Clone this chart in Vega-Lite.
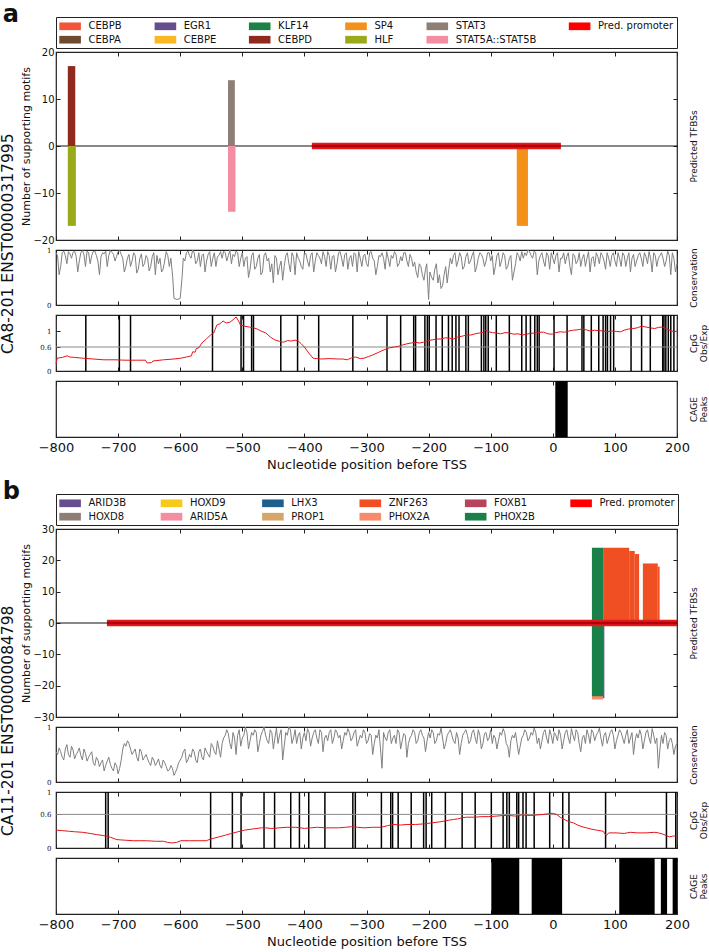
{
"$schema": "https://vega.github.io/schema/vega-lite/v6.json",
"background": "white",
"padding": {"left": 0, "top": 2, "right": 0, "bottom": 0},
"config": {
  "font": "DejaVu Sans",
  "view": {"stroke": "#222222", "strokeWidth": 1.2},
  "axis": {"grid": false, "domain": false, "tickColor": "#222222", "tickSize": -4, "tickWidth": 1, "labelColor": "#111111", "titleColor": "#111111", "titleFontWeight": "normal", "labelFlush": false, "labelOverlap": false, "minExtent": 0, "labelFont": "DejaVu Sans", "titleFont": "DejaVu Sans"},
  "title": {"color": "#111111"}
},
"datasets": {
  "tfbsA": [
    {"tf": "CEBPD", "start": -781, "end": -769, "lo": 0, "hi": 17},
    {"tf": "HLF", "start": -781, "end": -768, "lo": -17, "hi": 0},
    {"tf": "STAT3", "start": -523, "end": -512, "lo": 0, "hi": 14},
    {"tf": "STAT5A::STAT5B", "start": -523, "end": -511, "lo": -14, "hi": 0},
    {"tf": "SP4", "start": -58, "end": -40, "lo": -17, "hi": 0}
  ],
  "promA": [{"start": -388, "end": 13}],
  "cageA": [{"start": 4, "end": 24}],
  "sitesA": [{"p":-752},{"p":-698},{"p":-680},{"p":-548},{"p":-502},{"p":-498},{"p":-485},{"p":-482},{"p":-438},{"p":-411},{"p":-377},{"p":-322},{"p":-267},{"p":-245},{"p":-224},{"p":-221},{"p":-206},{"p":-202},{"p":-199},{"p":-188},{"p":-178},{"p":-168},{"p":-162},{"p":-156},{"p":-151},{"p":-140},{"p":-136},{"p":-115},{"p":-111},{"p":-108},{"p":-104},{"p":-91},{"p":-70},{"p":-50},{"p":-43},{"p":-36},{"p":-29},{"p":-25},{"p":-22},{"p":2},{"p":23},{"p":47},{"p":50},{"p":62},{"p":74},{"p":81},{"p":85},{"p":88},{"p":93},{"p":98},{"p":126},{"p":143},{"p":157},{"p":177},{"p":179},{"p":182},{"p":186},{"p":190},{"p":195}],
  "cpgA": [{"p":-800,"v":0.18},{"p":-798,"v":0.32},{"p":-790,"v":0.34},{"p":-782,"v":0.38},{"p":-778,"v":0.35},{"p":-770,"v":0.34},{"p":-757,"v":0.32},{"p":-740,"v":0.3},{"p":-723,"v":0.28},{"p":-705,"v":0.28},{"p":-689,"v":0.27},{"p":-670,"v":0.27},{"p":-656,"v":0.27},{"p":-653,"v":0.2},{"p":-646,"v":0.21},{"p":-644,"v":0.25},{"p":-627,"v":0.28},{"p":-610,"v":0.3},{"p":-599,"v":0.32},{"p":-590,"v":0.35},{"p":-582,"v":0.38},{"p":-580,"v":0.48},{"p":-576,"v":0.47},{"p":-574,"v":0.56},{"p":-570,"v":0.58},{"p":-565,"v":0.7},{"p":-558,"v":0.8},{"p":-551,"v":0.9},{"p":-546,"v":0.95},{"p":-544,"v":1.03},{"p":-541,"v":1.15},{"p":-536,"v":1.18},{"p":-531,"v":1.25},{"p":-526,"v":1.2},{"p":-520,"v":1.22},{"p":-515,"v":1.28},{"p":-510,"v":1.35},{"p":-506,"v":1.25},{"p":-503,"v":1.15},{"p":-496,"v":1.12},{"p":-489,"v":1.1},{"p":-482,"v":1.08},{"p":-476,"v":1.05},{"p":-470,"v":1.0},{"p":-462,"v":0.95},{"p":-455,"v":0.85},{"p":-448,"v":0.78},{"p":-440,"v":0.74},{"p":-434,"v":0.72},{"p":-427,"v":0.76},{"p":-421,"v":0.75},{"p":-415,"v":0.77},{"p":-410,"v":0.75},{"p":-405,"v":0.68},{"p":-400,"v":0.6},{"p":-393,"v":0.45},{"p":-386,"v":0.32},{"p":-380,"v":0.31},{"p":-372,"v":0.3},{"p":-360,"v":0.31},{"p":-345,"v":0.3},{"p":-338,"v":0.3},{"p":-331,"v":0.28},{"p":-324,"v":0.33},{"p":-318,"v":0.35},{"p":-310,"v":0.31},{"p":-304,"v":0.32},{"p":-297,"v":0.36},{"p":-290,"v":0.4},{"p":-283,"v":0.45},{"p":-276,"v":0.5},{"p":-270,"v":0.54},{"p":-263,"v":0.58},{"p":-255,"v":0.6},{"p":-248,"v":0.62},{"p":-242,"v":0.65},{"p":-235,"v":0.68},{"p":-228,"v":0.7},{"p":-221,"v":0.72},{"p":-215,"v":0.7},{"p":-208,"v":0.72},{"p":-200,"v":0.76},{"p":-194,"v":0.78},{"p":-187,"v":0.8},{"p":-180,"v":0.8},{"p":-173,"v":0.83},{"p":-166,"v":0.82},{"p":-160,"v":0.8},{"p":-153,"v":0.85},{"p":-146,"v":0.87},{"p":-139,"v":0.9},{"p":-132,"v":0.9},{"p":-125,"v":0.93},{"p":-118,"v":0.95},{"p":-111,"v":0.97},{"p":-108,"v":1.02},{"p":-103,"v":0.98},{"p":-97,"v":0.96},{"p":-91,"v":0.95},{"p":-84,"v":0.93},{"p":-77,"v":0.96},{"p":-70,"v":0.95},{"p":-63,"v":0.92},{"p":-56,"v":0.93},{"p":-49,"v":0.9},{"p":-42,"v":0.92},{"p":-36,"v":0.94},{"p":-29,"v":0.95},{"p":-22,"v":0.97},{"p":-15,"v":0.97},{"p":-8,"v":0.93},{"p":-1,"v":0.92},{"p":5,"v":0.96},{"p":12,"v":0.98},{"p":19,"v":0.97},{"p":26,"v":1.0},{"p":33,"v":1.02},{"p":40,"v":1.03},{"p":47,"v":1.05},{"p":54,"v":1.03},{"p":60,"v":1.0},{"p":67,"v":1.02},{"p":74,"v":1.01},{"p":81,"v":1.0},{"p":88,"v":0.98},{"p":95,"v":1.0},{"p":102,"v":0.99},{"p":109,"v":0.98},{"p":115,"v":1.02},{"p":122,"v":1.05},{"p":129,"v":1.06},{"p":136,"v":1.08},{"p":143,"v":1.12},{"p":150,"v":1.1},{"p":157,"v":1.08},{"p":164,"v":1.06},{"p":170,"v":1.09},{"p":177,"v":1.1},{"p":184,"v":1.05},{"p":191,"v":1.0},{"p":196,"v":0.98},{"p":200,"v":1.0}],
  "consA": [{"p":-800,"v":0.95},{"p":-795,"v":0.55},{"p":-790,"v":0.95},{"p":-785,"v":0.9},{"p":-780,"v":0.97},{"p":-775,"v":0.85},{"p":-770,"v":0.98},{"p":-765,"v":0.6},{"p":-760,"v":0.95},{"p":-755,"v":0.92},{"p":-750,"v":0.98},{"p":-745,"v":0.75},{"p":-740,"v":0.97},{"p":-735,"v":0.9},{"p":-730,"v":0.55},{"p":-725,"v":0.95},{"p":-720,"v":0.98},{"p":-715,"v":0.9},{"p":-710,"v":0.96},{"p":-705,"v":0.8},{"p":-700,"v":0.97},{"p":-695,"v":0.92},{"p":-690,"v":0.6},{"p":-685,"v":0.85},{"p":-680,"v":0.7},{"p":-675,"v":0.95},{"p":-670,"v":0.58},{"p":-665,"v":0.85},{"p":-660,"v":0.7},{"p":-655,"v":0.9},{"p":-650,"v":0.62},{"p":-645,"v":0.88},{"p":-640,"v":0.55},{"p":-635,"v":0.75},{"p":-630,"v":0.6},{"p":-625,"v":0.8},{"p":-620,"v":0.9},{"p":-615,"v":0.85},{"p":-612,"v":0.5},{"p":-610,"v":0.12},{"p":-605,"v":0.1},{"p":-600,"v":0.12},{"p":-597,"v":0.5},{"p":-595,"v":0.85},{"p":-590,"v":0.95},{"p":-585,"v":0.9},{"p":-580,"v":1.0},{"p":-575,"v":0.75},{"p":-570,"v":0.95},{"p":-565,"v":0.9},{"p":-560,"v":0.6},{"p":-555,"v":0.92},{"p":-550,"v":0.7},{"p":-545,"v":0.95},{"p":-540,"v":0.88},{"p":-535,"v":0.97},{"p":-530,"v":0.98},{"p":-525,"v":0.8},{"p":-520,"v":1.0},{"p":-515,"v":0.92},{"p":-510,"v":0.98},{"p":-505,"v":0.7},{"p":-500,"v":0.95},{"p":-495,"v":0.85},{"p":-490,"v":0.5},{"p":-485,"v":0.9},{"p":-480,"v":0.65},{"p":-475,"v":0.85},{"p":-470,"v":0.55},{"p":-465,"v":0.9},{"p":-460,"v":0.8},{"p":-455,"v":0.6},{"p":-450,"v":0.4},{"p":-445,"v":0.85},{"p":-440,"v":0.7},{"p":-435,"v":0.45},{"p":-430,"v":0.9},{"p":-425,"v":0.75},{"p":-420,"v":0.95},{"p":-415,"v":0.55},{"p":-410,"v":0.85},{"p":-405,"v":0.7},{"p":-400,"v":0.95},{"p":-395,"v":0.8},{"p":-390,"v":0.9},{"p":-385,"v":0.6},{"p":-380,"v":0.95},{"p":-375,"v":0.85},{"p":-370,"v":0.97},{"p":-365,"v":0.7},{"p":-360,"v":0.9},{"p":-355,"v":0.88},{"p":-350,"v":0.6},{"p":-345,"v":0.95},{"p":-340,"v":0.85},{"p":-335,"v":0.92},{"p":-330,"v":0.65},{"p":-325,"v":0.9},{"p":-320,"v":0.95},{"p":-315,"v":0.6},{"p":-310,"v":0.85},{"p":-305,"v":0.9},{"p":-300,"v":0.75},{"p":-295,"v":0.95},{"p":-290,"v":0.85},{"p":-285,"v":0.55},{"p":-280,"v":0.9},{"p":-275,"v":0.95},{"p":-270,"v":0.65},{"p":-265,"v":0.85},{"p":-260,"v":0.9},{"p":-255,"v":0.97},{"p":-250,"v":0.7},{"p":-245,"v":0.88},{"p":-240,"v":0.95},{"p":-235,"v":0.8},{"p":-230,"v":0.92},{"p":-225,"v":0.7},{"p":-220,"v":0.6},{"p":-215,"v":0.75},{"p":-210,"v":0.55},{"p":-205,"v":0.65},{"p":-201,"v":0.3},{"p":-200,"v":0.1},{"p":-198,"v":0.6},{"p":-195,"v":0.5},{"p":-190,"v":0.65},{"p":-185,"v":0.4},{"p":-180,"v":0.3},{"p":-175,"v":0.55},{"p":-170,"v":0.4},{"p":-165,"v":0.85},{"p":-160,"v":0.9},{"p":-155,"v":0.7},{"p":-150,"v":0.95},{"p":-145,"v":0.65},{"p":-140,"v":0.88},{"p":-135,"v":0.75},{"p":-130,"v":0.9},{"p":-125,"v":0.6},{"p":-120,"v":0.85},{"p":-115,"v":0.92},{"p":-110,"v":0.7},{"p":-105,"v":0.95},{"p":-100,"v":0.8},{"p":-95,"v":0.55},{"p":-90,"v":0.9},{"p":-85,"v":0.7},{"p":-80,"v":0.95},{"p":-75,"v":0.65},{"p":-70,"v":0.85},{"p":-65,"v":0.45},{"p":-60,"v":0.75},{"p":-55,"v":0.9},{"p":-50,"v":0.97},{"p":-45,"v":0.95},{"p":-40,"v":1.0},{"p":-35,"v":0.9},{"p":-30,"v":0.98},{"p":-25,"v":0.55},{"p":-20,"v":0.9},{"p":-15,"v":0.8},{"p":-10,"v":0.95},{"p":-5,"v":0.65},{"p":0,"v":0.85},{"p":5,"v":0.9},{"p":10,"v":0.6},{"p":15,"v":0.85},{"p":20,"v":0.75},{"p":25,"v":0.95},{"p":30,"v":0.55},{"p":35,"v":0.9},{"p":40,"v":0.8},{"p":45,"v":0.7},{"p":50,"v":0.92},{"p":55,"v":0.85},{"p":60,"v":0.6},{"p":65,"v":0.88},{"p":70,"v":0.95},{"p":75,"v":0.75},{"p":80,"v":0.9},{"p":85,"v":0.65},{"p":90,"v":0.85},{"p":95,"v":0.9},{"p":100,"v":0.8},{"p":105,"v":0.95},{"p":110,"v":0.7},{"p":115,"v":0.9},{"p":120,"v":0.85},{"p":125,"v":0.6},{"p":130,"v":0.92},{"p":135,"v":0.8},{"p":140,"v":0.95},{"p":145,"v":0.7},{"p":150,"v":0.88},{"p":155,"v":0.97},{"p":160,"v":0.6},{"p":165,"v":0.9},{"p":170,"v":0.85},{"p":175,"v":0.95},{"p":180,"v":0.7},{"p":185,"v":0.98},{"p":190,"v":0.55},{"p":195,"v":0.85},{"p":200,"v":0.75},
   {"p":-797.5,"v":0.9},{"p":-792.5,"v":0.7},{"p":-787.5,"v":0.98},{"p":-782.5,"v":0.75},{"p":-777.5,"v":0.93},{"p":-772.5,"v":0.96},{"p":-767.5,"v":0.88},{"p":-762.5,"v":0.8},{"p":-757.5,"v":0.99},{"p":-752.5,"v":0.7},{"p":-747.5,"v":0.95},{"p":-742.5,"v":0.9},{"p":-737.5,"v":0.98},{"p":-732.5,"v":0.8},{"p":-727.5,"v":0.88},{"p":-722.5,"v":0.93},{"p":-717.5,"v":0.7},{"p":-712.5,"v":0.99},{"p":-707.5,"v":0.92},{"p":-702.5,"v":0.88},{"p":-697.5,"v":0.99},{"p":-692.5,"v":0.85},{"p":-687.5,"v":0.7},{"p":-682.5,"v":0.92},{"p":-677.5,"v":0.8},{"p":-672.5,"v":0.9},{"p":-667.5,"v":0.65},{"p":-662.5,"v":0.93},{"p":-657.5,"v":0.75},{"p":-652.5,"v":0.85},{"p":-647.5,"v":0.7},{"p":-642.5,"v":0.95},{"p":-637.5,"v":0.9},{"p":-632.5,"v":0.85},{"p":-627.5,"v":0.65},{"p":-622.5,"v":0.97},{"p":-617.5,"v":0.7},{"p":-592.5,"v":0.8},{"p":-587.5,"v":0.98},{"p":-582.5,"v":0.85},{"p":-577.5,"v":0.95},{"p":-572.5,"v":0.8},{"p":-567.5,"v":0.7},{"p":-562.5,"v":0.93},{"p":-557.5,"v":0.8},{"p":-552.5,"v":0.97},{"p":-547.5,"v":0.85},{"p":-542.5,"v":0.7},{"p":-537.5,"v":0.9},{"p":-532.5,"v":0.85},{"p":-527.5,"v":0.95},{"p":-522.5,"v":0.9},{"p":-517.5,"v":0.75},{"p":-512.5,"v":0.88},{"p":-507.5,"v":0.95},{"p":-502.5,"v":0.85},{"p":-497.5,"v":0.7},{"p":-492.5,"v":0.88},{"p":-487.5,"v":0.65},{"p":-482.5,"v":0.95},{"p":-477.5,"v":0.7},{"p":-472.5,"v":0.92},{"p":-467.5,"v":0.6},{"p":-462.5,"v":0.95},{"p":-457.5,"v":0.85},{"p":-452.5,"v":0.75},{"p":-447.5,"v":0.9},{"p":-442.5,"v":0.55},{"p":-437.5,"v":0.8},{"p":-432.5,"v":0.7},{"p":-427.5,"v":0.95},{"p":-422.5,"v":0.6},{"p":-417.5,"v":0.88},{"p":-412.5,"v":0.95},{"p":-407.5,"v":0.8},{"p":-402.5,"v":0.65},{"p":-397.5,"v":0.93},{"p":-392.5,"v":0.7},{"p":-387.5,"v":0.95},{"p":-382.5,"v":0.8},{"p":-377.5,"v":0.9},{"p":-372.5,"v":0.75},{"p":-367.5,"v":0.88},{"p":-362.5,"v":0.97},{"p":-357.5,"v":0.65},{"p":-352.5,"v":0.9},{"p":-347.5,"v":0.75},{"p":-342.5,"v":0.97},{"p":-337.5,"v":0.7},{"p":-332.5,"v":0.95},{"p":-327.5,"v":0.85},{"p":-322.5,"v":0.7},{"p":-317.5,"v":0.92},{"p":-312.5,"v":0.97},{"p":-307.5,"v":0.7},{"p":-302.5,"v":0.92},{"p":-297.5,"v":0.7},{"p":-292.5,"v":0.97},{"p":-287.5,"v":0.8},{"p":-282.5,"v":0.7},{"p":-277.5,"v":0.88},{"p":-272.5,"v":0.85},{"p":-267.5,"v":0.97},{"p":-262.5,"v":0.7},{"p":-257.5,"v":0.85},{"p":-252.5,"v":0.92},{"p":-247.5,"v":0.75},{"p":-242.5,"v":0.8},{"p":-237.5,"v":0.95},{"p":-232.5,"v":0.7},{"p":-227.5,"v":0.85},{"p":-222.5,"v":0.78},{"p":-217.5,"v":0.5},{"p":-212.5,"v":0.7},{"p":-207.5,"v":0.45},{"p":-203,"v":0.75},{"p":-192.5,"v":0.45},{"p":-187.5,"v":0.75},{"p":-182.5,"v":0.55},{"p":-177.5,"v":0.35},{"p":-172.5,"v":0.7},{"p":-167.5,"v":0.65},{"p":-162.5,"v":0.75},{"p":-157.5,"v":0.95},{"p":-152.5,"v":0.8},{"p":-147.5,"v":0.88},{"p":-142.5,"v":0.7},{"p":-137.5,"v":0.95},{"p":-132.5,"v":0.8},{"p":-127.5,"v":0.97},{"p":-122.5,"v":0.7},{"p":-117.5,"v":0.95},{"p":-112.5,"v":0.85},{"p":-107.5,"v":0.8},{"p":-102.5,"v":0.95},{"p":-97.5,"v":0.9},{"p":-92.5,"v":0.7},{"p":-87.5,"v":0.95},{"p":-82.5,"v":0.8},{"p":-77.5,"v":0.9},{"p":-72.5,"v":0.7},{"p":-67.5,"v":0.9},{"p":-62.5,"v":0.6},{"p":-57.5,"v":0.95},{"p":-52.5,"v":0.8},{"p":-47.5,"v":0.85},{"p":-42.5,"v":0.9},{"p":-37.5,"v":0.97},{"p":-32.5,"v":0.85},{"p":-27.5,"v":0.95},{"p":-22.5,"v":0.8},{"p":-17.5,"v":0.95},{"p":-12.5,"v":0.7},{"p":-7.5,"v":0.9},{"p":-2.5,"v":0.95},{"p":2.5,"v":0.75},{"p":7.5,"v":0.95},{"p":12.5,"v":0.85},{"p":17.5,"v":0.95},{"p":22.5,"v":0.88},{"p":27.5,"v":0.7},{"p":32.5,"v":0.93},{"p":37.5,"v":0.75},{"p":42.5,"v":0.95},{"p":47.5,"v":0.85},{"p":52.5,"v":0.7},{"p":57.5,"v":0.97},{"p":62.5,"v":0.85},{"p":67.5,"v":0.7},{"p":72.5,"v":0.88},{"p":77.5,"v":0.95},{"p":82.5,"v":0.8},{"p":87.5,"v":0.95},{"p":92.5,"v":0.7},{"p":97.5,"v":0.95},{"p":102.5,"v":0.7},{"p":107.5,"v":0.85},{"p":112.5,"v":0.95},{"p":117.5,"v":0.7},{"p":122.5,"v":0.95},{"p":127.5,"v":0.85},{"p":132.5,"v":0.7},{"p":137.5,"v":0.9},{"p":142.5,"v":0.85},{"p":147.5,"v":0.95},{"p":152.5,"v":0.75},{"p":157.5,"v":0.85},{"p":162.5,"v":0.95},{"p":167.5,"v":0.7},{"p":172.5,"v":0.9},{"p":177.5,"v":0.85},{"p":182.5,"v":0.8},{"p":187.5,"v":0.9},{"p":192.5,"v":0.95},{"p":197.5,"v":0.6}],
  "tfbsB": [
    {"tf": "ARID3B", "start": 64, "end": 83, "lo": -24, "hi": 0},
    {"tf": "PHOX2A", "start": 63, "end": 81, "lo": -24.4, "hi": 0},
    {"tf": "PHOX2B", "start": 63, "end": 81, "lo": -23.4, "hi": 0},
    {"tf": "PHOX2B", "start": 63, "end": 82, "lo": 0, "hi": 24},
    {"tf": "ZNF263", "start": 82, "end": 123, "lo": 0, "hi": 24},
    {"tf": "ZNF263", "start": 123, "end": 132, "lo": 0, "hi": 23},
    {"tf": "ZNF263", "start": 132, "end": 139, "lo": 0, "hi": 22},
    {"tf": "ZNF263", "start": 145, "end": 169, "lo": 0, "hi": 19},
    {"tf": "ZNF263", "start": 169, "end": 172, "lo": 0, "hi": 18}
  ],
  "promB": [{"start": -718, "end": 200}],
  "cageB": [{"start": -99, "end": -54}, {"start": -34, "end": 15}, {"start": 107, "end": 164}, {"start": 174, "end": 184}, {"start": 193, "end": 200}],
  "sitesB": [{"p":-720},{"p":-716},{"p":-551},{"p":-516},{"p":-502},{"p":-465},{"p":-448},{"p":-422},{"p":-408},{"p":-393},{"p":-367},{"p":-322},{"p":-318},{"p":-276},{"p":-261},{"p":-258},{"p":-249},{"p":-228},{"p":-208},{"p":-204},{"p":-195},{"p":-173},{"p":-146},{"p":-125},{"p":-99},{"p":-80},{"p":-74},{"p":-70},{"p":-58},{"p":-55},{"p":-48},{"p":-43},{"p":-30},{"p":-5},{"p":16},{"p":26},{"p":85},{"p":183},{"p":198}],
  "cpgB": [{"p":-800,"v":0.32},{"p":-790,"v":0.31},{"p":-780,"v":0.3},{"p":-770,"v":0.29},{"p":-757,"v":0.28},{"p":-745,"v":0.26},{"p":-735,"v":0.24},{"p":-723,"v":0.22},{"p":-712,"v":0.19},{"p":-702,"v":0.15},{"p":-690,"v":0.14},{"p":-675,"v":0.13},{"p":-665,"v":0.13},{"p":-654,"v":0.13},{"p":-640,"v":0.12},{"p":-627,"v":0.12},{"p":-620,"v":0.1},{"p":-613,"v":0.09},{"p":-606,"v":0.1},{"p":-599,"v":0.13},{"p":-585,"v":0.13},{"p":-570,"v":0.13},{"p":-558,"v":0.13},{"p":-551,"v":0.16},{"p":-544,"v":0.18},{"p":-537,"v":0.2},{"p":-527,"v":0.23},{"p":-517,"v":0.26},{"p":-507,"v":0.29},{"p":-496,"v":0.32},{"p":-483,"v":0.34},{"p":-469,"v":0.36},{"p":-462,"v":0.36},{"p":-455,"v":0.35},{"p":-448,"v":0.35},{"p":-441,"v":0.36},{"p":-428,"v":0.37},{"p":-414,"v":0.37},{"p":-400,"v":0.35},{"p":-390,"v":0.36},{"p":-379,"v":0.37},{"p":-365,"v":0.36},{"p":-345,"v":0.36},{"p":-334,"v":0.37},{"p":-324,"v":0.38},{"p":-314,"v":0.37},{"p":-304,"v":0.36},{"p":-290,"v":0.37},{"p":-276,"v":0.37},{"p":-266,"v":0.4},{"p":-256,"v":0.42},{"p":-245,"v":0.41},{"p":-235,"v":0.42},{"p":-221,"v":0.42},{"p":-208,"v":0.43},{"p":-194,"v":0.45},{"p":-180,"v":0.47},{"p":-166,"v":0.5},{"p":-160,"v":0.51},{"p":-153,"v":0.52},{"p":-146,"v":0.54},{"p":-139,"v":0.55},{"p":-125,"v":0.55},{"p":-115,"v":0.56},{"p":-104,"v":0.56},{"p":-90,"v":0.57},{"p":-80,"v":0.58},{"p":-70,"v":0.58},{"p":-60,"v":0.57},{"p":-50,"v":0.59},{"p":-36,"v":0.58},{"p":-25,"v":0.59},{"p":-15,"v":0.6},{"p":-8,"v":0.61},{"p":-1,"v":0.62},{"p":6,"v":0.6},{"p":12,"v":0.55},{"p":20,"v":0.5},{"p":26,"v":0.47},{"p":33,"v":0.45},{"p":40,"v":0.41},{"p":47,"v":0.38},{"p":54,"v":0.36},{"p":61,"v":0.34},{"p":70,"v":0.32},{"p":81,"v":0.3},{"p":86,"v":0.22},{"p":90,"v":0.27},{"p":102,"v":0.27},{"p":115,"v":0.26},{"p":125,"v":0.28},{"p":136,"v":0.27},{"p":150,"v":0.27},{"p":164,"v":0.28},{"p":170,"v":0.27},{"p":177,"v":0.25},{"p":183,"v":0.22},{"p":188,"v":0.2},{"p":193,"v":0.21},{"p":198,"v":0.22},{"p":200,"v":0.22}],
  "consB": [{"p":-800,"v":0.55},{"p":-795,"v":0.62},{"p":-790,"v":0.45},{"p":-785,"v":0.6},{"p":-780,"v":0.5},{"p":-775,"v":0.65},{"p":-770,"v":0.42},{"p":-765,"v":0.55},{"p":-760,"v":0.48},{"p":-755,"v":0.6},{"p":-750,"v":0.38},{"p":-745,"v":0.5},{"p":-740,"v":0.35},{"p":-735,"v":0.45},{"p":-730,"v":0.28},{"p":-725,"v":0.4},{"p":-720,"v":0.3},{"p":-715,"v":0.45},{"p":-710,"v":0.25},{"p":-705,"v":0.35},{"p":-700,"v":0.15},{"p":-695,"v":0.4},{"p":-690,"v":0.7},{"p":-685,"v":0.75},{"p":-680,"v":0.6},{"p":-675,"v":0.55},{"p":-670,"v":0.45},{"p":-665,"v":0.6},{"p":-660,"v":0.4},{"p":-655,"v":0.5},{"p":-650,"v":0.35},{"p":-645,"v":0.45},{"p":-640,"v":0.3},{"p":-635,"v":0.42},{"p":-630,"v":0.25},{"p":-625,"v":0.35},{"p":-620,"v":0.2},{"p":-615,"v":0.3},{"p":-610,"v":0.12},{"p":-605,"v":0.25},{"p":-600,"v":0.4},{"p":-595,"v":0.55},{"p":-590,"v":0.35},{"p":-585,"v":0.5},{"p":-580,"v":0.6},{"p":-575,"v":0.4},{"p":-570,"v":0.55},{"p":-565,"v":0.45},{"p":-560,"v":0.62},{"p":-555,"v":0.5},{"p":-550,"v":0.7},{"p":-545,"v":0.55},{"p":-540,"v":0.75},{"p":-535,"v":0.45},{"p":-530,"v":0.8},{"p":-525,"v":0.95},{"p":-520,"v":0.7},{"p":-515,"v":0.9},{"p":-510,"v":0.5},{"p":-505,"v":0.95},{"p":-500,"v":0.8},{"p":-495,"v":1.0},{"p":-490,"v":0.6},{"p":-485,"v":0.9},{"p":-480,"v":0.95},{"p":-475,"v":0.55},{"p":-470,"v":0.85},{"p":-465,"v":1.0},{"p":-460,"v":0.75},{"p":-455,"v":0.95},{"p":-450,"v":0.6},{"p":-445,"v":0.98},{"p":-440,"v":0.85},{"p":-435,"v":0.4},{"p":-430,"v":0.9},{"p":-425,"v":1.0},{"p":-420,"v":0.7},{"p":-415,"v":0.95},{"p":-410,"v":0.85},{"p":-405,"v":0.6},{"p":-400,"v":0.9},{"p":-395,"v":0.97},{"p":-390,"v":0.65},{"p":-385,"v":0.9},{"p":-380,"v":0.8},{"p":-375,"v":0.95},{"p":-370,"v":0.55},{"p":-365,"v":0.85},{"p":-360,"v":0.9},{"p":-355,"v":0.7},{"p":-350,"v":0.95},{"p":-345,"v":0.8},{"p":-340,"v":0.6},{"p":-335,"v":0.9},{"p":-330,"v":0.97},{"p":-325,"v":0.75},{"p":-320,"v":0.9},{"p":-315,"v":0.65},{"p":-310,"v":0.85},{"p":-305,"v":0.95},{"p":-300,"v":0.7},{"p":-295,"v":0.88},{"p":-290,"v":0.5},{"p":-285,"v":0.85},{"p":-280,"v":0.95},{"p":-275,"v":0.25},{"p":-270,"v":0.8},{"p":-265,"v":0.9},{"p":-260,"v":0.7},{"p":-255,"v":0.85},{"p":-250,"v":0.95},{"p":-245,"v":0.6},{"p":-240,"v":0.88},{"p":-235,"v":0.45},{"p":-230,"v":0.8},{"p":-225,"v":0.95},{"p":-220,"v":0.7},{"p":-215,"v":0.9},{"p":-210,"v":0.85},{"p":-205,"v":0.55},{"p":-200,"v":0.9},{"p":-195,"v":0.95},{"p":-190,"v":0.7},{"p":-185,"v":0.88},{"p":-180,"v":0.98},{"p":-175,"v":0.6},{"p":-170,"v":0.85},{"p":-165,"v":0.95},{"p":-160,"v":0.75},{"p":-155,"v":0.9},{"p":-150,"v":0.5},{"p":-145,"v":0.85},{"p":-140,"v":0.95},{"p":-135,"v":0.7},{"p":-130,"v":0.9},{"p":-125,"v":0.8},{"p":-120,"v":0.95},{"p":-115,"v":0.6},{"p":-110,"v":0.88},{"p":-105,"v":0.75},{"p":-100,"v":0.95},{"p":-95,"v":0.85},{"p":-90,"v":0.6},{"p":-85,"v":0.9},{"p":-80,"v":0.97},{"p":-75,"v":0.7},{"p":-70,"v":0.45},{"p":-65,"v":0.85},{"p":-60,"v":0.9},{"p":-55,"v":0.5},{"p":-50,"v":0.8},{"p":-45,"v":0.95},{"p":-40,"v":0.75},{"p":-35,"v":0.9},{"p":-30,"v":0.98},{"p":-25,"v":0.7},{"p":-20,"v":0.6},{"p":-15,"v":0.9},{"p":-10,"v":0.8},{"p":-5,"v":0.95},{"p":0,"v":0.7},{"p":5,"v":0.85},{"p":10,"v":0.95},{"p":15,"v":0.6},{"p":20,"v":0.9},{"p":25,"v":0.8},{"p":30,"v":0.97},{"p":35,"v":0.75},{"p":40,"v":0.9},{"p":45,"v":0.55},{"p":50,"v":0.85},{"p":55,"v":0.95},{"p":60,"v":0.7},{"p":65,"v":0.9},{"p":70,"v":0.85},{"p":75,"v":0.98},{"p":80,"v":0.65},{"p":85,"v":0.9},{"p":90,"v":0.8},{"p":95,"v":0.95},{"p":100,"v":0.6},{"p":105,"v":0.85},{"p":110,"v":0.9},{"p":115,"v":0.7},{"p":120,"v":0.95},{"p":125,"v":0.8},{"p":130,"v":0.5},{"p":135,"v":0.88},{"p":140,"v":0.95},{"p":145,"v":0.6},{"p":150,"v":0.9},{"p":155,"v":0.8},{"p":160,"v":0.97},{"p":165,"v":0.7},{"p":170,"v":0.25},{"p":175,"v":0.85},{"p":180,"v":0.9},{"p":185,"v":0.6},{"p":190,"v":0.8},{"p":195,"v":0.5},{"p":200,"v":0.7},
   {"p":-797.5,"v":0.5},{"p":-792.5,"v":0.55},{"p":-787.5,"v":0.4},{"p":-782.5,"v":0.68},{"p":-777.5,"v":0.45},{"p":-772.5,"v":0.58},{"p":-767.5,"v":0.5},{"p":-762.5,"v":0.62},{"p":-757.5,"v":0.4},{"p":-752.5,"v":0.52},{"p":-747.5,"v":0.45},{"p":-742.5,"v":0.55},{"p":-737.5,"v":0.3},{"p":-732.5,"v":0.4},{"p":-727.5,"v":0.35},{"p":-722.5,"v":0.2},{"p":-717.5,"v":0.38},{"p":-712.5,"v":0.32},{"p":-707.5,"v":0.2},{"p":-702.5,"v":0.3},{"p":-697.5,"v":0.25},{"p":-692.5,"v":0.6},{"p":-687.5,"v":0.65},{"p":-682.5,"v":0.7},{"p":-677.5,"v":0.5},{"p":-672.5,"v":0.6},{"p":-667.5,"v":0.38},{"p":-662.5,"v":0.55},{"p":-657.5,"v":0.45},{"p":-652.5,"v":0.42},{"p":-647.5,"v":0.3},{"p":-642.5,"v":0.4},{"p":-637.5,"v":0.35},{"p":-632.5,"v":0.3},{"p":-627.5,"v":0.4},{"p":-622.5,"v":0.28},{"p":-617.5,"v":0.22},{"p":-612.5,"v":0.25},{"p":-607.5,"v":0.18},{"p":-602.5,"v":0.35},{"p":-597.5,"v":0.45},{"p":-592.5,"v":0.6},{"p":-587.5,"v":0.4},{"p":-582.5,"v":0.45},{"p":-577.5,"v":0.55},{"p":-572.5,"v":0.35},{"p":-567.5,"v":0.6},{"p":-562.5,"v":0.4},{"p":-557.5,"v":0.55},{"p":-552.5,"v":0.45},{"p":-547.5,"v":0.65},{"p":-542.5,"v":0.5},{"p":-537.5,"v":0.6},{"p":-532.5,"v":0.7},{"p":-527.5,"v":0.85},{"p":-522.5,"v":0.88},{"p":-517.5,"v":0.6},{"p":-512.5,"v":0.8},{"p":-507.5,"v":0.85},{"p":-502.5,"v":0.65},{"p":-497.5,"v":0.85},{"p":-492.5,"v":0.9},{"p":-487.5,"v":0.75},{"p":-482.5,"v":0.85},{"p":-477.5,"v":0.9},{"p":-472.5,"v":0.7},{"p":-467.5,"v":0.92},{"p":-462.5,"v":0.85},{"p":-457.5,"v":0.7},{"p":-452.5,"v":0.9},{"p":-447.5,"v":0.8},{"p":-442.5,"v":0.7},{"p":-437.5,"v":0.95},{"p":-432.5,"v":0.65},{"p":-427.5,"v":0.85},{"p":-422.5,"v":0.95},{"p":-417.5,"v":0.8},{"p":-412.5,"v":0.7},{"p":-407.5,"v":0.9},{"p":-402.5,"v":0.8},{"p":-397.5,"v":0.75},{"p":-392.5,"v":0.9},{"p":-387.5,"v":0.8},{"p":-382.5,"v":0.95},{"p":-377.5,"v":0.7},{"p":-372.5,"v":0.9},{"p":-367.5,"v":0.8},{"p":-362.5,"v":0.75},{"p":-357.5,"v":0.95},{"p":-352.5,"v":0.8},{"p":-347.5,"v":0.9},{"p":-342.5,"v":0.85},{"p":-337.5,"v":0.75},{"p":-332.5,"v":0.85},{"p":-327.5,"v":0.9},{"p":-322.5,"v":0.8},{"p":-317.5,"v":0.95},{"p":-312.5,"v":0.75},{"p":-307.5,"v":0.8},{"p":-302.5,"v":0.9},{"p":-297.5,"v":0.75},{"p":-292.5,"v":0.85},{"p":-287.5,"v":0.7},{"p":-282.5,"v":0.8},{"p":-277.5,"v":0.6},{"p":-272.5,"v":0.9},{"p":-267.5,"v":0.75},{"p":-262.5,"v":0.95},{"p":-257.5,"v":0.8},{"p":-252.5,"v":0.7},{"p":-247.5,"v":0.9},{"p":-242.5,"v":0.75},{"p":-237.5,"v":0.85},{"p":-232.5,"v":0.7},{"p":-227.5,"v":0.85},{"p":-222.5,"v":0.9},{"p":-217.5,"v":0.75},{"p":-212.5,"v":0.95},{"p":-207.5,"v":0.8},{"p":-202.5,"v":0.75},{"p":-197.5,"v":0.8},{"p":-192.5,"v":0.9},{"p":-187.5,"v":0.75},{"p":-182.5,"v":0.85},{"p":-177.5,"v":0.8},{"p":-172.5,"v":0.7},{"p":-167.5,"v":0.9},{"p":-162.5,"v":0.85},{"p":-157.5,"v":0.7},{"p":-152.5,"v":0.8},{"p":-147.5,"v":0.7},{"p":-142.5,"v":0.9},{"p":-137.5,"v":0.85},{"p":-132.5,"v":0.75},{"p":-127.5,"v":0.95},{"p":-122.5,"v":0.7},{"p":-117.5,"v":0.85},{"p":-112.5,"v":0.7},{"p":-107.5,"v":0.9},{"p":-102.5,"v":0.8},{"p":-97.5,"v":0.7},{"p":-92.5,"v":0.8},{"p":-87.5,"v":0.75},{"p":-82.5,"v":0.85},{"p":-77.5,"v":0.9},{"p":-72.5,"v":0.65},{"p":-67.5,"v":0.75},{"p":-62.5,"v":0.8},{"p":-57.5,"v":0.7},{"p":-52.5,"v":0.65},{"p":-47.5,"v":0.85},{"p":-42.5,"v":0.9},{"p":-37.5,"v":0.8},{"p":-32.5,"v":0.85},{"p":-27.5,"v":0.9},{"p":-22.5,"v":0.8},{"p":-17.5,"v":0.75},{"p":-12.5,"v":0.95},{"p":-7.5,"v":0.7},{"p":-2.5,"v":0.85},{"p":2.5,"v":0.9},{"p":7.5,"v":0.75},{"p":12.5,"v":0.85},{"p":17.5,"v":0.75},{"p":22.5,"v":0.95},{"p":27.5,"v":0.7},{"p":32.5,"v":0.85},{"p":37.5,"v":0.95},{"p":42.5,"v":0.7},{"p":47.5,"v":0.8},{"p":52.5,"v":0.7},{"p":57.5,"v":0.85},{"p":62.5,"v":0.95},{"p":67.5,"v":0.75},{"p":72.5,"v":0.9},{"p":77.5,"v":0.8},{"p":82.5,"v":0.85},{"p":87.5,"v":0.7},{"p":92.5,"v":0.9},{"p":97.5,"v":0.85},{"p":102.5,"v":0.75},{"p":107.5,"v":0.95},{"p":112.5,"v":0.8},{"p":117.5,"v":0.85},{"p":122.5,"v":0.7},{"p":127.5,"v":0.9},{"p":132.5,"v":0.75},{"p":137.5,"v":0.8},{"p":142.5,"v":0.85},{"p":147.5,"v":0.75},{"p":152.5,"v":0.95},{"p":157.5,"v":0.7},{"p":162.5,"v":0.85},{"p":167.5,"v":0.8},{"p":172.5,"v":0.6},{"p":177.5,"v":0.7},{"p":182.5,"v":0.85},{"p":187.5,"v":0.75},{"p":192.5,"v":0.7},{"p":197.5,"v":0.65}]
},
"resolve": {"scale": {"color": "independent"}},
"spacing": 7,
"vconcat": [
 {
  "title": {"text": "a", "orient": "top", "anchor": "start", "frame": "bounds", "fontSize": 24, "fontWeight": "bold", "offset": 0, "dy": 11, "dx": 2},
  "resolve": {"scale": {"color": "independent"}},
  "bounds": "flush",
  "vconcat": [{
   "title": {"text": "CA8-201 ENST00000317995", "orient": "left", "anchor": "middle", "fontSize": 15.5, "fontWeight": "normal", "offset": 4},
   "resolve": {"scale": {"color": "independent"}},
   "spacing": 10,
   "bounds": "flush",
   "vconcat": [
    {
     "width": 621, "height": 188,
     "resolve": {"axis": {"x": "independent", "y": "independent"}},
     "layer": [
      {"data": {"values": [{}]}, "mark": {"type": "rule", "color": "#111111", "strokeWidth": 1}, "encoding": {"y": {"datum": 0, "type": "quantitative", "scale": {"domain": [-20, 20], "nice": false}, "axis": null}}},
      {"data": {"name": "tfbsA"}, "mark": {"type": "rect"},
       "encoding": {
        "x": {"field": "start", "type": "quantitative", "scale": {"domain": [-800, 200], "nice": false, "zero": false}, "axis": {"orient": "bottom", "values": [-800,-700,-600,-500,-400,-300,-200,-100,0,100,200], "labels": false, "title": null}},
        "x2": {"field": "end"},
        "y": {"field": "lo", "type": "quantitative", "scale": {"domain": [-20, 20], "nice": false}, "axis": {"orient": "left", "values": [-20,-10,0,10,20], "format": "d", "labelFontSize": 10, "labelPadding": 6, "title": "Number of supporting motifs", "titleFontSize": 11, "titlePadding": 1}},
        "y2": {"field": "hi"},
        "color": {"field": "tf", "type": "nominal",
          "scale": {"domain": ["CEBPB","CEBPA","EGR1","CEBPE","KLF14","CEBPD","SP4","HLF","STAT3","STAT5A::STAT5B","Pred. promoter"],
                    "range": ["#f2553a","#6e4b2e","#644e8e","#fbb825","#1c8049","#8e2b1e","#f39118","#9aaa1b","#8e7f76","#f48ca2","#ff0000"]},
          "legend": {"orient": "none", "legendX": 0, "legendY": -35, "columns": 6, "gridAlign": "each", "columnPadding": 32.3, "rowPadding": 2.4, "symbolType": "M-1,-0.64H2.6V0.64H-1Z", "symbolSize": 144, "symbolStrokeWidth": 0, "symbolOpacity": 1, "labelFontSize": 10, "labelFont": "DejaVu Sans", "labelColor": "#111111", "labelOffset": 17.2, "labelLimit": 300, "padding": 3.3, "strokeColor": "#222222", "fillColor": "#ffffff", "title": null}}
       }},
      {"data": {"name": "promA"}, "mark": {"type": "rule", "color": "#e41a1c", "strokeWidth": 6.5}, "encoding": {"x": {"field": "start", "type": "quantitative", "axis": null}, "x2": {"field": "end"}, "y": {"datum": 0, "type": "quantitative", "axis": null}}},
      {"data": {"name": "promA"}, "mark": {"type": "rule", "color": "#b0000a", "strokeWidth": 2.5}, "encoding": {"x": {"field": "start", "type": "quantitative", "axis": null}, "x2": {"field": "end"}, "y": {"datum": 0, "type": "quantitative", "axis": null}}},
      {"data": {"values": [{}]}, "mark": {"type": "point", "opacity": 0}, "encoding": {
        "x": {"datum": 0, "type": "quantitative", "axis": {"orient": "top", "values": [-800,-700,-600,-500,-400,-300,-200,-100,0,100,200], "labels": false, "title": null}},
        "y": {"datum": 0, "type": "quantitative", "axis": {"orient": "right", "values": [-20,-10,0,10,20], "labels": false, "title": "Predicted TFBSs", "titleAngle": 270, "titleBaseline": "top", "titlePadding": 12, "titleFontSize": 9}}}}
     ]
    },
    {
     "width": 621, "height": 55,
     "resolve": {"axis": {"x": "independent", "y": "independent"}},
     "layer": [
      {"data": {"name": "consA"}, "mark": {"type": "line", "color": "#808080", "strokeWidth": 1}, "encoding": {
        "x": {"field": "p", "type": "quantitative", "scale": {"domain": [-800, 200], "nice": false, "zero": false}, "axis": {"orient": "bottom", "values": [-800,-700,-600,-500,-400,-300,-200,-100,0,100,200], "labels": false, "title": null}},
        "y": {"field": "v", "type": "quantitative", "scale": {"domain": [0, 1], "nice": false}, "axis": {"orient": "left", "values": [0, 1], "format": "d", "labelFont": "DejaVu Serif", "labelFontSize": 7, "labelPadding": 9, "title": null}}}},
      {"data": {"values": [{}]}, "mark": {"type": "point", "opacity": 0}, "encoding": {
        "x": {"datum": 0, "type": "quantitative", "axis": {"orient": "top", "values": [-800,-700,-600,-500,-400,-300,-200,-100,0,100,200], "labels": false, "title": null}},
        "y": {"datum": 0, "type": "quantitative", "axis": {"orient": "right", "values": [0, 1], "labels": false, "title": "Conservation", "titleAngle": 270, "titleBaseline": "top", "titlePadding": 12, "titleFontSize": 9}}}}
     ]
    },
    {
     "width": 621, "height": 56,
     "resolve": {"axis": {"x": "independent", "y": "independent"}},
     "layer": [
      {"data": {"name": "sitesA"}, "mark": {"type": "rule", "color": "#000000", "strokeWidth": 1.5}, "encoding": {
        "x": {"field": "p", "type": "quantitative", "scale": {"domain": [-800, 200], "nice": false, "zero": false}, "axis": {"orient": "bottom", "values": [-800,-700,-600,-500,-400,-300,-200,-100,0,100,200], "labels": false, "title": null}}}},
      {"data": {"values": [{}]}, "mark": {"type": "rule", "color": "#8a8a8a", "strokeWidth": 1}, "encoding": {"y": {"datum": 0.6, "type": "quantitative", "axis": null}}},
      {"data": {"name": "cpgA"}, "mark": {"type": "line", "color": "#e8141c", "strokeWidth": 1}, "encoding": {
        "x": {"field": "p", "type": "quantitative", "axis": null},
        "y": {"field": "v", "type": "quantitative", "scale": {"domain": [0, 1.4], "nice": false}, "axis": {"orient": "left", "values": [0, 0.6, 1], "format": "~g", "labelFont": "DejaVu Serif", "labelFontSize": 7, "labelPadding": 9, "title": null}}}},
      {"data": {"values": [{}]}, "mark": {"type": "point", "opacity": 0}, "encoding": {
        "x": {"datum": 0, "type": "quantitative", "axis": {"orient": "top", "values": [-800,-700,-600,-500,-400,-300,-200,-100,0,100,200], "labels": false, "title": null}},
        "y": {"datum": 0, "type": "quantitative", "axis": {"orient": "right", "ticks": false, "labels": false, "title": ["CpG", "Obs/Exp"], "titleAngle": 270, "titleBaseline": "top", "titlePadding": 2, "titleFontSize": 9, "titleLineHeight": 10}}}}
     ]
    },
    {
     "width": 621, "height": 56,
     "resolve": {"axis": {"x": "independent", "y": "independent"}},
     "layer": [
      {"data": {"name": "cageA"}, "mark": {"type": "rect", "color": "#000000"}, "encoding": {
        "x": {"field": "start", "type": "quantitative", "scale": {"domain": [-800, 200], "nice": false, "zero": false}, "axis": {"orient": "bottom", "values": [-800,-700,-600,-500,-400,-300,-200,-100,0,100,200], "format": "d", "labelFontSize": 13, "labelPadding": 8, "title": "Nucleotide position before TSS", "titleFontSize": 13, "titlePadding": 4}},
        "x2": {"field": "end"}}},
      {"data": {"values": [{}]}, "mark": {"type": "point", "opacity": 0}, "encoding": {
        "x": {"datum": 0, "type": "quantitative", "axis": {"orient": "top", "values": [-800,-700,-600,-500,-400,-300,-200,-100,0,100,200], "labels": false, "title": null}},
        "y": {"datum": 0.5, "type": "quantitative", "scale": {"domain": [0, 1], "nice": false}, "axis": {"orient": "right", "ticks": false, "labels": false, "title": ["CAGE", "Peaks"], "titleAngle": 270, "titleBaseline": "top", "titlePadding": 2, "titleFontSize": 9, "titleLineHeight": 10}}}}
     ]
    }
   ]
  }]
 },
 {
  "title": {"text": "b", "orient": "top", "anchor": "start", "frame": "bounds", "fontSize": 24, "fontWeight": "bold", "offset": 0, "dy": 11, "dx": 2},
  "resolve": {"scale": {"color": "independent"}},
  "bounds": "flush",
  "vconcat": [{
   "title": {"text": "CA11-201 ENST00000084798", "orient": "left", "anchor": "middle", "fontSize": 15.5, "fontWeight": "normal", "offset": 4},
   "resolve": {"scale": {"color": "independent"}},
   "spacing": 10,
   "bounds": "flush",
   "vconcat": [
    {
     "width": 621, "height": 188,
     "resolve": {"axis": {"x": "independent", "y": "independent"}},
     "layer": [
      {"data": {"values": [{}]}, "mark": {"type": "rule", "color": "#111111", "strokeWidth": 1}, "encoding": {"y": {"datum": 0, "type": "quantitative", "scale": {"domain": [-30, 30], "nice": false}, "axis": null}}},
      {"data": {"name": "tfbsB"}, "mark": {"type": "rect"},
       "encoding": {
        "x": {"field": "start", "type": "quantitative", "scale": {"domain": [-800, 200], "nice": false, "zero": false}, "axis": {"orient": "bottom", "values": [-800,-700,-600,-500,-400,-300,-200,-100,0,100,200], "labels": false, "title": null}},
        "x2": {"field": "end"},
        "y": {"field": "lo", "type": "quantitative", "scale": {"domain": [-30, 30], "nice": false}, "axis": {"orient": "left", "values": [-30,-20,-10,0,10,20,30], "format": "d", "labelFontSize": 10, "labelPadding": 6, "title": "Number of supporting motifs", "titleFontSize": 11, "titlePadding": 1}},
        "y2": {"field": "hi"},
        "color": {"field": "tf", "type": "nominal",
          "scale": {"domain": ["ARID3B","HOXD8","HOXD9","ARID5A","LHX3","PROP1","ZNF263","PHOX2A","FOXB1","PHOX2B","Pred. promoter"],
                    "range": ["#644e8e","#8e7f76","#f7c91b","#f48ca2","#1f5f8e","#d4a66a","#f04e23","#f98a6a","#b8435f","#1a8049","#ff0000"]},
          "legend": {"orient": "none", "legendX": 0, "legendY": -35, "columns": 6, "gridAlign": "each", "columnPadding": 34.4, "rowPadding": 2.4, "symbolType": "M-1,-0.64H2.6V0.64H-1Z", "symbolSize": 144, "symbolStrokeWidth": 0, "symbolOpacity": 1, "labelFontSize": 10, "labelFont": "DejaVu Sans", "labelColor": "#111111", "labelOffset": 17.2, "labelLimit": 300, "padding": 3.3, "strokeColor": "#222222", "fillColor": "#ffffff", "title": null}}
       }},
      {"data": {"name": "promB"}, "mark": {"type": "rule", "color": "#e41a1c", "strokeWidth": 6.5}, "encoding": {"x": {"field": "start", "type": "quantitative", "axis": null}, "x2": {"field": "end"}, "y": {"datum": 0, "type": "quantitative", "axis": null}}},
      {"data": {"name": "promB"}, "mark": {"type": "rule", "color": "#b0000a", "strokeWidth": 2.5}, "encoding": {"x": {"field": "start", "type": "quantitative", "axis": null}, "x2": {"field": "end"}, "y": {"datum": 0, "type": "quantitative", "axis": null}}},
      {"data": {"values": [{}]}, "mark": {"type": "point", "opacity": 0}, "encoding": {
        "x": {"datum": 0, "type": "quantitative", "axis": {"orient": "top", "values": [-800,-700,-600,-500,-400,-300,-200,-100,0,100,200], "labels": false, "title": null}},
        "y": {"datum": 0, "type": "quantitative", "axis": {"orient": "right", "values": [-30,-20,-10,0,10,20,30], "labels": false, "title": "Predicted TFBSs", "titleAngle": 270, "titleBaseline": "top", "titlePadding": 12, "titleFontSize": 9}}}}
     ]
    },
    {
     "width": 621, "height": 55,
     "resolve": {"axis": {"x": "independent", "y": "independent"}},
     "layer": [
      {"data": {"name": "consB"}, "mark": {"type": "line", "color": "#808080", "strokeWidth": 1}, "encoding": {
        "x": {"field": "p", "type": "quantitative", "scale": {"domain": [-800, 200], "nice": false, "zero": false}, "axis": {"orient": "bottom", "values": [-800,-700,-600,-500,-400,-300,-200,-100,0,100,200], "labels": false, "title": null}},
        "y": {"field": "v", "type": "quantitative", "scale": {"domain": [0, 1], "nice": false}, "axis": {"orient": "left", "values": [0, 1], "format": "d", "labelFont": "DejaVu Serif", "labelFontSize": 7, "labelPadding": 9, "title": null}}}},
      {"data": {"values": [{}]}, "mark": {"type": "point", "opacity": 0}, "encoding": {
        "x": {"datum": 0, "type": "quantitative", "axis": {"orient": "top", "values": [-800,-700,-600,-500,-400,-300,-200,-100,0,100,200], "labels": false, "title": null}},
        "y": {"datum": 0, "type": "quantitative", "axis": {"orient": "right", "values": [0, 1], "labels": false, "title": "Conservation", "titleAngle": 270, "titleBaseline": "top", "titlePadding": 12, "titleFontSize": 9}}}}
     ]
    },
    {
     "width": 621, "height": 56,
     "resolve": {"axis": {"x": "independent", "y": "independent"}},
     "layer": [
      {"data": {"name": "sitesB"}, "mark": {"type": "rule", "color": "#000000", "strokeWidth": 1.5}, "encoding": {
        "x": {"field": "p", "type": "quantitative", "scale": {"domain": [-800, 200], "nice": false, "zero": false}, "axis": {"orient": "bottom", "values": [-800,-700,-600,-500,-400,-300,-200,-100,0,100,200], "labels": false, "title": null}}}},
      {"data": {"values": [{}]}, "mark": {"type": "rule", "color": "#8a8a8a", "strokeWidth": 1}, "encoding": {"y": {"datum": 0.6, "type": "quantitative", "axis": null}}},
      {"data": {"name": "cpgB"}, "mark": {"type": "line", "color": "#e8141c", "strokeWidth": 1}, "encoding": {
        "x": {"field": "p", "type": "quantitative", "axis": null},
        "y": {"field": "v", "type": "quantitative", "scale": {"domain": [0, 1], "nice": false}, "axis": {"orient": "left", "values": [0, 0.6, 1], "format": "~g", "labelFont": "DejaVu Serif", "labelFontSize": 7, "labelPadding": 9, "title": null}}}},
      {"data": {"values": [{}]}, "mark": {"type": "point", "opacity": 0}, "encoding": {
        "x": {"datum": 0, "type": "quantitative", "axis": {"orient": "top", "values": [-800,-700,-600,-500,-400,-300,-200,-100,0,100,200], "labels": false, "title": null}},
        "y": {"datum": 0, "type": "quantitative", "axis": {"orient": "right", "ticks": false, "labels": false, "title": ["CpG", "Obs/Exp"], "titleAngle": 270, "titleBaseline": "top", "titlePadding": 2, "titleFontSize": 9, "titleLineHeight": 10}}}}
     ]
    },
    {
     "width": 621, "height": 56,
     "resolve": {"axis": {"x": "independent", "y": "independent"}},
     "layer": [
      {"data": {"name": "cageB"}, "mark": {"type": "rect", "color": "#000000"}, "encoding": {
        "x": {"field": "start", "type": "quantitative", "scale": {"domain": [-800, 200], "nice": false, "zero": false}, "axis": {"orient": "bottom", "values": [-800,-700,-600,-500,-400,-300,-200,-100,0,100,200], "format": "d", "labelFontSize": 13, "labelPadding": 8, "title": "Nucleotide position before TSS", "titleFontSize": 13, "titlePadding": 4}},
        "x2": {"field": "end"}}},
      {"data": {"values": [{}]}, "mark": {"type": "point", "opacity": 0}, "encoding": {
        "x": {"datum": 0, "type": "quantitative", "axis": {"orient": "top", "values": [-800,-700,-600,-500,-400,-300,-200,-100,0,100,200], "labels": false, "title": null}},
        "y": {"datum": 0.5, "type": "quantitative", "scale": {"domain": [0, 1], "nice": false}, "axis": {"orient": "right", "ticks": false, "labels": false, "title": ["CAGE", "Peaks"], "titleAngle": 270, "titleBaseline": "top", "titlePadding": 2, "titleFontSize": 9, "titleLineHeight": 10}}}}
     ]
    }
   ]
  }]
 }
]
}
